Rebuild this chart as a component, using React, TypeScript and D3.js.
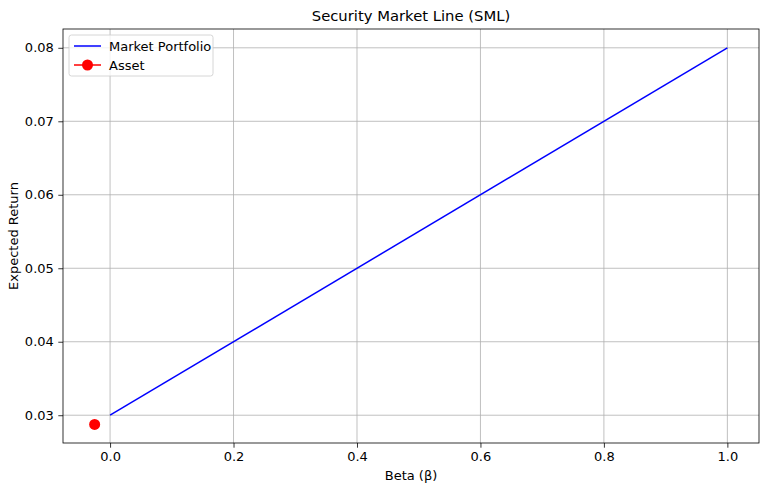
import React, { useEffect, useRef } from 'react';
import * as d3 from 'd3';

const lineBetas = [0, 1];
const lineReturns = [0.03, 0.08];
const assetBeta = [-0.025];
const assetReturn = [0.02875];
const xTicks = [0, 0.2, 0.4, 0.6, 0.8, 1.0];
const yTicks = [0.03, 0.04, 0.05, 0.06, 0.07, 0.08];

const W = 768;
const H = 491;

const App: React.FC = () => {
  const svgRef = useRef<SVGSVGElement>(null);

  useEffect(() => {
    if (!svgRef.current) return;
    const margin = { top: 29, right: 9, bottom: 48, left: 63 };
    const width = W - margin.left - margin.right;
    const height = H - margin.top - margin.bottom;
    const font = 'DejaVu Sans, sans-serif';

    d3.select(svgRef.current).selectAll('*').remove();
    const svg = d3.select(svgRef.current)
      .attr('width', W)
      .attr('height', H)
      .style('font-family', font);

    svg.append('rect').attr('width', W).attr('height', H).attr('fill', '#fff');

    const g = svg.append('g').attr('transform', `translate(${margin.left},${margin.top})`);

    const x = d3.scaleLinear().domain([-0.07625, 1.05125]).range([0, width]);
    const y = d3.scaleLinear().domain([0.02622, 0.08256]).range([height, 0]);

    // grid
    g.append('g').selectAll('line').data(xTicks).enter().append('line')
      .attr('x1', d => x(d)).attr('x2', d => x(d))
      .attr('y1', 0).attr('y2', height)
      .attr('stroke', '#b0b0b0').attr('stroke-width', 0.8);
    g.append('g').selectAll('line').data(yTicks).enter().append('line')
      .attr('y1', d => y(d)).attr('y2', d => y(d))
      .attr('x1', 0).attr('x2', width)
      .attr('stroke', '#b0b0b0').attr('stroke-width', 0.8);

    // axes
    const xAxis = g.append('g')
      .attr('transform', `translate(0,${height})`)
      .call(d3.axisBottom(x).tickValues(xTicks).tickFormat(d3.format('.1f')).tickSize(4.7).tickPadding(4.5));
    const yAxis = g.append('g')
      .call(d3.axisLeft(y).tickValues(yTicks).tickFormat(d3.format('.2f')).tickSize(4.7).tickPadding(4.5));
    [xAxis, yAxis].forEach(a => {
      a.select('.domain').remove();
      a.selectAll('text').attr('font-size', 13).attr('font-family', font).attr('fill', '#000');
      a.selectAll('line').attr('stroke', '#000').attr('stroke-width', 0.8);
    });

    // SML line
    const pts = lineBetas.map((b, i) => [b, lineReturns[i]] as [number, number]);
    g.append('path')
      .datum(pts)
      .attr('fill', 'none')
      .attr('stroke', '#0000ff')
      .attr('stroke-width', 1.5)
      .attr('d', d3.line<[number, number]>().x(d => x(d[0])).y(d => y(d[1])));

    // asset
    g.selectAll('circle.asset').data(assetBeta).enter().append('circle')
      .attr('class', 'asset')
      .attr('cx', d => x(d))
      .attr('cy', (_, i) => y(assetReturn[i]))
      .attr('r', 5.5)
      .attr('fill', '#ff0000');

    // frame
    g.append('rect').attr('width', width).attr('height', height)
      .attr('fill', 'none').attr('stroke', '#000').attr('stroke-width', 0.8);

    // legend
    const lg = g.append('g').attr('transform', 'translate(6,6)');
    lg.append('rect').attr('width', 144).attr('height', 41).attr('rx', 2.5)
      .attr('fill', '#fff').attr('fill-opacity', 0.8)
      .attr('stroke', '#cccccc').attr('stroke-width', 0.8);
    lg.append('line').attr('x1', 5).attr('x2', 32).attr('y1', 11).attr('y2', 11)
      .attr('stroke', '#0000ff').attr('stroke-width', 1.5);
    lg.append('text').attr('x', 40).attr('y', 15.5).attr('font-size', 13).text('Market Portfolio');
    lg.append('line').attr('x1', 5).attr('x2', 32).attr('y1', 30).attr('y2', 30)
      .attr('stroke', '#ff0000').attr('stroke-width', 1.5);
    lg.append('circle').attr('cx', 18.5).attr('cy', 30).attr('r', 5.5).attr('fill', '#ff0000');
    lg.append('text').attr('x', 40).attr('y', 34.5).attr('font-size', 13).text('Asset');

    // title & labels
    svg.append('text').attr('x', margin.left + width / 2).attr('y', 21)
      .attr('text-anchor', 'middle').attr('font-size', 14.8).text('Security Market Line (SML)');
    svg.append('text').attr('x', margin.left + width / 2).attr('y', 480)
      .attr('text-anchor', 'middle').attr('font-size', 13).text('Beta (β)');
    svg.append('text')
      .attr('transform', `translate(18,${margin.top + height / 2}) rotate(-90)`)
      .attr('text-anchor', 'middle').attr('font-size', 13).text('Expected Return');
  }, []);

  return (
    <div style={{ position: 'absolute', left: 0, top: 0 }}>
      <svg ref={svgRef}></svg>
    </div>
  );
};

export default App;
